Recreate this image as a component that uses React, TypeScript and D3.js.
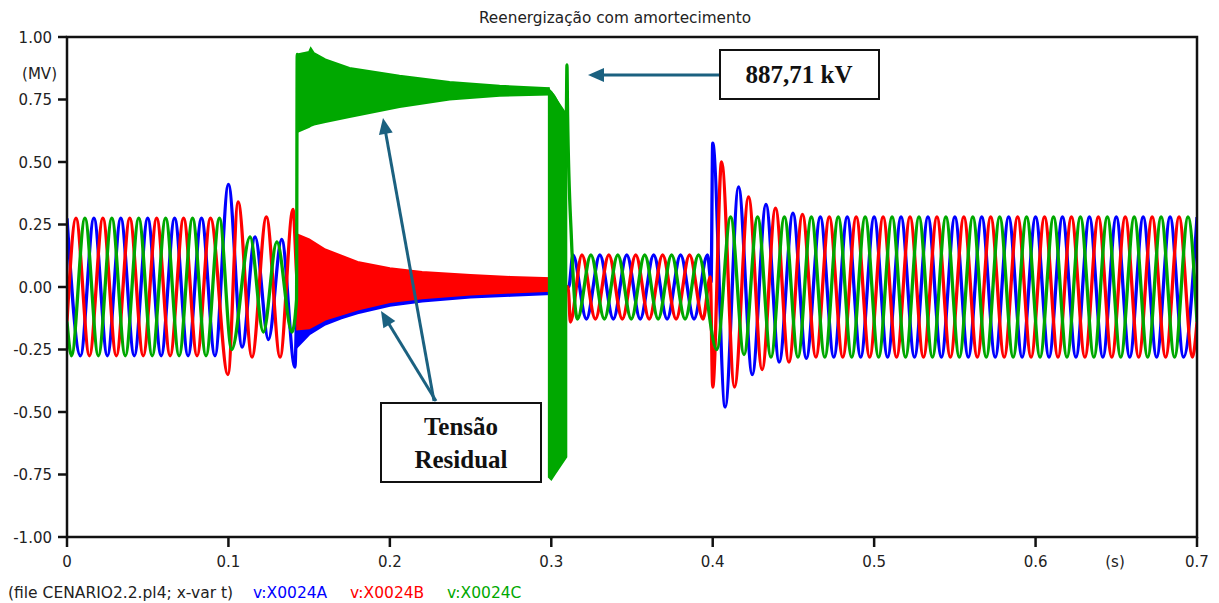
import React from "react";
import * as d3 from "d3";

// ---------- text / axes ----------
const TITLE = "Reenergização com amortecimento";
const SERIES_NAMES = ["v:X0024A", "v:X0024B", "v:X0024C"];
const SERIES_COLORS = ["#0000ff", "#ff0000", "#00a800"];
const FILE_LABEL = "(file CENARIO2.2.pl4; x-var t)";
const X_TICKS = [0, 0.1, 0.2, 0.3, 0.4, 0.5, 0.6, 0.7];
const X_TICK_LABELS = ["0", "0.1", "0.2", "0.3", "0.4", "0.5", "0.6", "0.7"];
const Y_TICKS = [-1, -0.75, -0.5, -0.25, 0, 0.25, 0.5, 0.75, 1];
const Y_TICK_LABELS = ["-1.00", "-0.75", "-0.50", "-0.25", "0.00", "0.25", "0.50", "0.75", "1.00"];
const Y_UNIT = "(MV)";
const X_UNIT = "(s)";
const PEAK_NOTE = "887,71 kV";
const RESIDUAL_NOTE = ["Tensão", "Residual"];

// ---------- waveform data ----------
const FREQ_HZ = 60;
const PHASE_DEG = [0, -120, 120]; // A, B, C
// steady 60 Hz stretches: [start s, end s, peak MV, phase shift deg]
const STEADY_WINDOWS = [
  [0, 0.097, 0.275, 0],
  [0.3125, 0.399, 0.128, 70],
  [0.46, 0.7, 0.28, 0],
];

// transient extrema [t s, v MV]
const A_EVENTS = [
  [0.1, 0.41], [0.1085, -0.24], [0.1165, 0.2], [0.1248, -0.21], [0.133, 0.19], [0.1412, -0.32],
  [0.1428, 0.0], [0.3, 0.0], [0.3108, 0.0],
  [0.399, 0.02], [0.4, 0.575], [0.4077, -0.48], [0.416, 0.4], [0.4245, -0.35], [0.433, 0.33],
  [0.4412, -0.3], [0.4497, 0.295], [0.458, -0.285],
];
const B_EVENTS = [
  [0.0997, -0.35], [0.106, 0.34], [0.1146, -0.28], [0.1235, 0.28], [0.132, -0.28], [0.14, 0.31],
  [0.1428, 0.02], [0.3, 0.01], [0.3105, 0.0], [0.3118, -0.14],
  [0.3985, 0.04], [0.4, -0.4], [0.4055, 0.5], [0.4135, -0.4], [0.4222, 0.36], [0.4306, -0.33],
  [0.4389, 0.315], [0.4472, -0.3], [0.4556, 0.29],
];
const C_EVENTS = [
  [0.102, -0.25], [0.1134, 0.2], [0.1216, -0.18], [0.13, 0.18], [0.1394, -0.18], [0.1422, -0.05],
  [0.1426, 0.93], [0.1434, 0.78], [0.2985, 0.78],
  [0.3093, 0.69], [0.3097, 0.888], [0.3101, 0.69], [0.3125, 0.19],
  [0.4025, -0.25], [0.4111, 0.28], [0.4194, -0.27], [0.4278, 0.28], [0.4361, -0.28], [0.4444, 0.28],
  [0.4528, -0.28],
];

// high-frequency ringing envelopes [t s, upper MV, lower MV]
const A_RING = [
  [0.1426, 0.19, -0.24], [0.15, 0.17, -0.19], [0.16, 0.13, -0.15], [0.17, 0.11, -0.125],
  [0.18, 0.09, -0.105], [0.2, 0.065, -0.075], [0.22, 0.05, -0.058], [0.25, 0.038, -0.042],
  [0.275, 0.03, -0.035], [0.3, 0.025, -0.028],
];
const B_RING = [
  [0.1426, 0.21, -0.17], [0.15, 0.19, -0.165], [0.16, 0.15, -0.13], [0.17, 0.125, -0.11],
  [0.18, 0.1, -0.09], [0.2, 0.075, -0.06], [0.22, 0.06, -0.045], [0.25, 0.048, -0.03],
  [0.275, 0.04, -0.022], [0.3, 0.035, -0.015],
];
const C_TRAPPED = [
  [0.1426, 0.93, 0.62], [0.15, 0.94, 0.64], [0.151, 0.955, 0.645], [0.153, 0.935, 0.65],
  [0.16, 0.91, 0.66], [0.175, 0.876, 0.68], [0.206, 0.845, 0.72], [0.237, 0.82, 0.75],
  [0.268, 0.805, 0.765], [0.2985, 0.795, 0.77],
];
const C_RING_CLOSE = [
  [0.2985, 0.79, -0.76], [0.3, 0.78, -0.77], [0.302, 0.76, -0.75], [0.3093, 0.69, -0.68],
];

const EVENTS = [A_EVENTS, B_EVENTS, C_EVENTS];
const RINGS = [[A_RING], [B_RING], [C_TRAPPED, C_RING_CLOSE]];

function buildPhase(p: number): number[][] {
  const pts: number[][] = [];
  const degPerSec = 360 * FREQ_HZ;
  for (const [t0, t1, amp, shift] of STEADY_WINDOWS) {
    const base = PHASE_DEG[p] + shift;
    const kStart = Math.ceil((t0 * degPerSec + base) / 180);
    const kEnd = Math.floor((t1 * degPerSec + base) / 180);
    for (let k = kStart; k <= kEnd; k++) {
      const t = (180 * k - base) / degPerSec;
      pts.push([t, Math.abs(k) % 2 === 0 ? amp : -amp]);
    }
    if (t0 === 0) pts.push([0, amp * Math.cos((base * Math.PI) / 180)]);
    if (t1 === 0.7) pts.push([0.7, amp * Math.cos(((t1 * degPerSec + base) * Math.PI) / 180)]);
  }
  for (const e of EVENTS[p]) pts.push(e);
  pts.sort((a, b) => a[0] - b[0]);
  const out: number[][] = [];
  for (const q of pts) {
    if (out.length && Math.abs(q[0] - out[out.length - 1][0]) < 1e-5) continue;
    out.push(q);
  }
  return out;
}

const W = 1219;
const H = 603;
const L = 67, R = 1197, T = 37, B = 537;
const FONT = "'DejaVu Sans', Verdana, sans-serif";
const SERIF = "'Liberation Serif', 'Times New Roman', serif";
const ARROW = "#1b6180";
const LEGEND_X = [253, 350, 447];

export default function App() {
  const x = d3.scaleLinear().domain([0, 0.7]).range([L, R]);
  const y = d3.scaleLinear().domain([-1, 1]).range([B, T]);
  const line = d3
    .line<number[]>()
    .x((d) => x(d[0]))
    .y((d) => y(d[1]))
    .curve(d3.curveMonotoneX);
  const area = d3
    .area<number[]>()
    .x((d) => x(d[0]))
    .y0((d) => y(d[2]))
    .y1((d) => y(d[1]));

  const arrowHead = (x1: number, y1: number, x2: number, y2: number, len = 16, half = 7) => {
    const a = Math.atan2(y2 - y1, x2 - x1);
    const bx = x2 - len * Math.cos(a);
    const by = y2 - len * Math.sin(a);
    const px = -Math.sin(a) * half;
    const py = Math.cos(a) * half;
    return `M${x2},${y2}L${bx + px},${by + py}L${bx - px},${by - py}Z`;
  };
  const shorten = (x1: number, y1: number, x2: number, y2: number, d: number) => {
    const a = Math.atan2(y2 - y1, x2 - x1);
    return [x2 - d * Math.cos(a), y2 - d * Math.sin(a)];
  };

  const arrows = [
    [719, 75, 588, 75],
    [434, 401, 383, 118],
    [436, 401, 381, 311],
  ];

  return (
    <svg
      width={W}
      height={H}
      style={{ position: "absolute", left: 0, top: 0, background: "#fff" }}
      xmlns="http://www.w3.org/2000/svg"
    >
      <defs>
        <clipPath id="plot">
          <rect x={L} y={T} width={R - L} height={B - T} />
        </clipPath>
      </defs>
      <rect x={0} y={0} width={W} height={H} fill="#fff" />
      <text x={615} y={23} textAnchor="middle" fontFamily={FONT} fontSize={15.3} fill="#222">
        {TITLE}
      </text>

      <g clipPath="url(#plot)">
        {SERIES_NAMES.map((name, p) => (
          <g key={name}>
            <path d={line(buildPhase(p)) || ""} fill="none" stroke={SERIES_COLORS[p]} strokeWidth={3.3} strokeLinejoin="round" />
            {RINGS[p].map((band, i) => (
              <path key={i} d={area(band) || ""} fill={SERIES_COLORS[p]} stroke={SERIES_COLORS[p]} strokeWidth={2} />
            ))}
          </g>
        ))}
      </g>

      {/* frame */}
      <rect x={L} y={T} width={R - L} height={B - T} fill="none" stroke="#111" strokeWidth={2.5} />
      {Y_TICKS.map((v, i) => (
        <g key={"y" + i}>
          <line x1={L - 9} x2={L} y1={y(v)} y2={y(v)} stroke="#111" strokeWidth={2.5} />
          <text x={52} y={y(v) + 5.5} textAnchor="end" fontFamily={FONT} fontSize={15} fill="#222">
            {Y_TICK_LABELS[i]}
          </text>
        </g>
      ))}
      <text x={57} y={79} textAnchor="end" fontFamily={FONT} fontSize={15} fill="#222">
        {Y_UNIT}
      </text>
      {X_TICKS.map((v, i) => (
        <g key={"x" + i}>
          <line x1={x(v)} x2={x(v)} y1={B} y2={B + 10} stroke="#111" strokeWidth={2.5} />
          <text x={x(v)} y={567} textAnchor="middle" fontFamily={FONT} fontSize={15} fill="#222">
            {X_TICK_LABELS[i]}
          </text>
        </g>
      ))}
      <text x={1115} y={567} textAnchor="middle" fontFamily={FONT} fontSize={15} fill="#222">
        {X_UNIT}
      </text>

      {/* legend */}
      <text x={8} y={598} fontFamily={FONT} fontSize={15.5} fill="#222">
        {FILE_LABEL}
      </text>
      {SERIES_NAMES.map((name, p) => (
        <text key={name} x={LEGEND_X[p]} y={598} fontFamily={FONT} fontSize={15.5} fill={SERIES_COLORS[p]}>
          {name}
        </text>
      ))}

      {/* annotations */}
      {arrows.map(([x1, y1, x2, y2], i) => {
        const [sx, sy] = shorten(x1, y1, x2, y2, 12);
        return (
          <g key={"a" + i}>
            <line x1={x1} y1={y1} x2={sx} y2={sy} stroke={ARROW} strokeWidth={3} />
            <path d={arrowHead(x1, y1, x2, y2)} fill={ARROW} />
          </g>
        );
      })}
      <rect x={720} y={50} width={159} height={49} fill="#fff" stroke="#111" strokeWidth={2} />
      <text x={799} y={83} textAnchor="middle" fontFamily={SERIF} fontWeight="bold" fontSize={25} fill="#111">
        {PEAK_NOTE}
      </text>
      <rect x={381} y={403} width={160} height={79} fill="#fff" stroke="#111" strokeWidth={2} />
      {RESIDUAL_NOTE.map((s, i) => (
        <text key={s} x={461} y={435 + i * 33} textAnchor="middle" fontFamily={SERIF} fontWeight="bold" fontSize={25} fill="#111">
          {s}
        </text>
      ))}
    </svg>
  );
}
